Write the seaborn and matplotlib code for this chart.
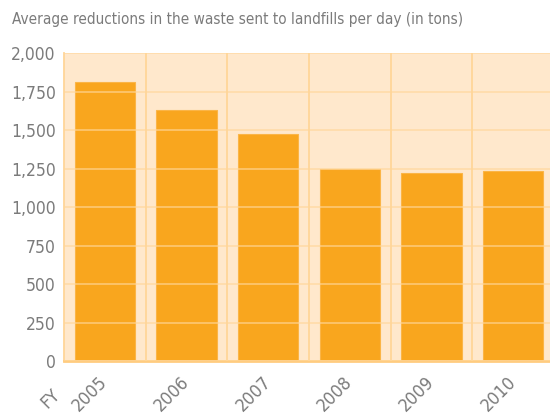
import matplotlib
matplotlib.use("Agg")
import matplotlib.pyplot as plt
import seaborn as sns
import pandas as pd
from matplotlib.ticker import FuncFormatter, FixedLocator

# Data
years = ["2005", "2006", "2007", "2008", "2009", "2010"]
tons = [1815, 1632, 1477, 1245, 1224, 1237]
y_ticks = [0, 250, 500, 750, 1000, 1250, 1500, 1750, 2000]

df = pd.DataFrame({"year": years, "tons": tons})

sns.set_theme(style="white")
plt.rcParams["font.family"] = ["DejaVu Sans"]
plt.rcParams["font.stretch"] = "condensed"

text_grey = "#7b7b7b"
bar_color = "#f9a61e"
bg_color = "#ffe8cc"
grid_color = "#ffd699"

fig = plt.figure(figsize=(5.5, 4.16), dpi=100)
ax = fig.add_axes([0.1164, 0.132, 0.891, 0.740])
ax.set_facecolor(bg_color)

sns.barplot(data=df, x="year", y="tons", color=bar_color, saturation=1,
            width=0.74, ax=ax, edgecolor="#fbb547", linewidth=0.8)

ax.set_ylim(0, 2000)
ax.set_xlim(-0.5, len(years) - 0.5)
ax.yaxis.set_major_locator(FixedLocator(y_ticks))
ax.yaxis.set_major_formatter(FuncFormatter(lambda v, p: f"{int(v):,}"))

# vertical grid at category boundaries
ax.xaxis.set_minor_locator(FixedLocator([i + 0.5 for i in range(len(years) - 1)]))
ax.set_axisbelow(False)
ax.grid(axis="y", which="major", color=grid_color, alpha=0.65, linewidth=1.3)
ax.grid(axis="x", which="minor", color=grid_color, linewidth=1.3)
for b in ax.patches:
    b.set_zorder(1.5)

ax.set_xlabel("")
ax.set_ylabel("")
for s in ["top", "right"]:
    ax.spines[s].set_visible(False)
ax.spines["left"].set_color(grid_color)
ax.spines["left"].set_linewidth(1.3)
ax.spines["bottom"].set_color("#ffcc80")
ax.spines["bottom"].set_linewidth(2)

ax.tick_params(axis="y", length=0, labelsize=12.5, labelcolor=text_grey, pad=6)
ax.tick_params(axis="x", which="both", length=0, labelsize=13, labelcolor=text_grey, pad=13)
for lbl in ax.get_xticklabels():
    lbl.set_rotation(45)
    lbl.set_ha("right")
    lbl.set_va("center")
    lbl.set_rotation_mode("anchor")

ax.text(-0.58, -0.10, "FY", transform=ax.get_xaxis_transform(), rotation=45,
        ha="right", va="center", rotation_mode="anchor", fontsize=13, color=text_grey)

fig.text(0.022, 0.952, "Average reductions in the waste sent to landfills per day (in tons)",
         fontsize=11, color=text_grey, ha="left", va="center")

fig.savefig("out.png", dpi=100)
